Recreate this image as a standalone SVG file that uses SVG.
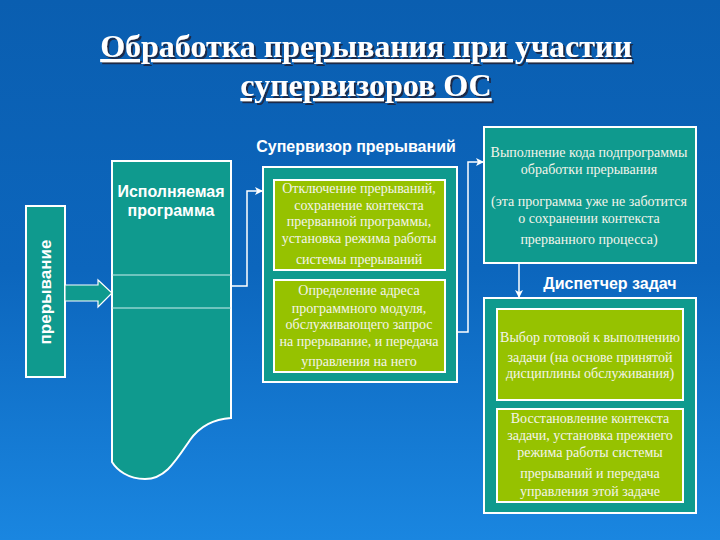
<svg xmlns="http://www.w3.org/2000/svg" width="720" height="540" viewBox="0 0 720 540">
<defs>
<linearGradient id="bg" x1="0" y1="0" x2="0" y2="1">
<stop offset="0" stop-color="#0a5eb0"/>
<stop offset="0.5" stop-color="#0c66bd"/>
<stop offset="1" stop-color="#1a86e0"/>
</linearGradient>
<filter id="sh" x="-5%" y="-20%" width="110%" height="150%">
<feDropShadow dx="2" dy="2" stdDeviation="0.6" flood-color="#1a2a48" flood-opacity="1"/>
</filter>
<marker id="ah" markerWidth="8" markerHeight="8" refX="7" refY="4" orient="auto" markerUnits="userSpaceOnUse">
<path d="M0,0 L8,4 L0,8 L2,4 Z" fill="#ffffff"/>
</marker>
<style>
.teal{fill:#0f9a8e;stroke:#ffffff;stroke-width:2}
.green{fill:#96c200;stroke:#ffffff;stroke-width:2}
.title{font-family:"Liberation Serif","Times New Roman",serif;font-weight:bold;font-size:32px;fill:#ffffff;text-anchor:middle;text-decoration:underline}
.sans{font-family:"Liberation Sans",Arial,sans-serif;font-weight:bold;font-size:16px;fill:#ffffff;text-anchor:middle}
.serif{font-family:"Liberation Serif","Times New Roman",serif;font-size:14px;fill:#f4f4ea;text-anchor:middle}
.conn{fill:none;stroke:#ffffff;stroke-width:1.5}
</style>
</defs>
<rect width="720" height="540" fill="url(#bg)"/>

<g id="title" filter="url(#sh)">
<text class="title" x="366" y="57">Обработка прерывания при участии</text>
<text class="title" x="366" y="96">супервизоров ОС</text>
</g>

<g id="interrupt">
<rect class="teal" x="26" y="206" width="39" height="171"/>
<text class="sans" style="font-size:17px" transform="translate(51,292) rotate(-90)">прерывание</text>
</g>

<g id="program">
<path class="teal" d="M112,161 H231 V418 C214,419 200,426 190,440 C175,462 165,479 145,479 C128,479 117,470 112,462 Z"/>
<line x1="112" y1="275" x2="231" y2="275" stroke="#cfeeee" stroke-width="1"/>
<line x1="112" y1="308" x2="231" y2="308" stroke="#cfeeee" stroke-width="1"/>
<text class="sans" x="171" y="197">Исполняемая</text>
<text class="sans" x="171" y="216">программа</text>
</g>

<g id="supervisor">
<text class="sans" x="356" y="152">Супервизор прерываний</text>
<rect class="teal" x="263" y="167" width="194" height="215"/>
<g id="sv1">
<rect class="green" x="274" y="180" width="171" height="90"/>
<text class="serif" x="359" y="193">Отключение прерываний,</text>
<text class="serif" x="359" y="210">сохранение контекста</text>
<text class="serif" x="359" y="226">прерванной программы,</text>
<text class="serif" x="359" y="243">установка режима работы</text>
<text class="serif" x="359" y="264">системы прерываний</text>
</g>
<g id="sv2">
<rect class="green" x="274" y="280" width="171" height="92"/>
<text class="serif" x="359" y="295">Определение адреса</text>
<text class="serif" x="359" y="313">программного модуля,</text>
<text class="serif" x="359" y="329">обслуживающего запрос</text>
<text class="serif" x="359" y="346">на прерывание, и передача</text>
<text class="serif" x="359" y="366">управления на него</text>
</g>
</g>

<g id="handler">
<rect class="teal" x="484" y="127" width="212" height="136"/>
<text class="serif" x="589" y="157">Выполнение кода подпрограммы</text>
<text class="serif" x="589" y="174">обработки прерывания</text>
<text class="serif" x="589" y="206">(эта программа уже не заботится</text>
<text class="serif" x="589" y="223">о сохранении контекста</text>
<text class="serif" x="589" y="244">прерванного процесса)</text>
</g>

<g id="dispatcher">
<text class="sans" x="610" y="289">Диспетчер задач</text>
<rect class="teal" x="484" y="298" width="212" height="215"/>
<g id="d1">
<rect class="green" x="497" y="309" width="186" height="91"/>
<text class="serif" x="590" y="342">Выбор готовой к выполнению</text>
<text class="serif" x="590" y="362">задачи  (на основе принятой</text>
<text class="serif" x="590" y="378">дисциплины обслуживания)</text>
</g>
<g id="d2">
<rect class="green" x="497" y="409" width="186" height="93"/>
<text class="serif" x="590" y="423">Восстановление контекста</text>
<text class="serif" x="590" y="440">задачи, установка прежнего</text>
<text class="serif" x="590" y="457">режима работы системы</text>
<text class="serif" x="590" y="478">прерываний и передача</text>
<text class="serif" x="590" y="496">управления этой задаче</text>
</g>
</g>

<g id="connectors">
<path d="M65,285 H98 V280 L112,293 L98,307 V301 H65 Z" fill="#0f9a8e" stroke="#ffffff" stroke-width="1.2"/>
<path class="conn" d="M231,286 H247 V191 H262" marker-end="url(#ah)"/>
<path class="conn" d="M457,332 H468 V162 H483" marker-end="url(#ah)"/>
<path class="conn" d="M519,263 V297" marker-end="url(#ah)"/>
</g>
</svg>
